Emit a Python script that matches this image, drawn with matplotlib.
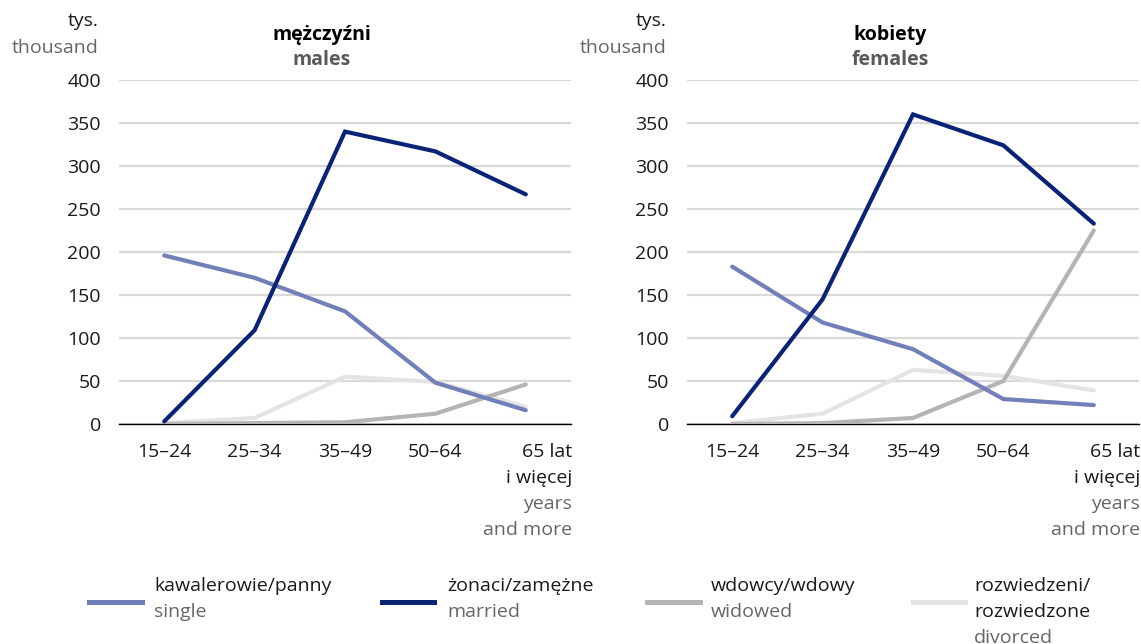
import matplotlib
matplotlib.use("Agg")
import matplotlib.pyplot as plt
from matplotlib.lines import Line2D

plt.rcParams['font.family'] = ['Open Sans', 'DejaVu Sans']

age_groups = ["15–24", "25–34", "35–49", "50–64", "65 lat"]
yticks = [0, 50, 100, 150, 200, 250, 300, 350, 400]

males_single = [196, 170, 131, 48, 16]
males_married = [3, 109, 340, 317, 267]
males_widowed = [0, 1, 2, 12, 46]
males_divorced = [1, 7, 55, 49, 20]

females_single = [183, 118, 87, 29, 22]
females_married = [9, 145, 360, 324, 233]
females_widowed = [0, 1, 7, 50, 225]
females_divorced = [1, 12, 63, 56, 39]

series_pl = ["kawalerowie/panny", "żonaci/zamężne", "wdowcy/wdowy", "rozwiedzeni/\nrozwiedzone"]
series_en = ["single", "married", "widowed", "divorced"]
colors = ["#7180b8", "#0b2376", "#b4b4b4", "#e4e4e4"]

W, H = 1141, 644
fig = plt.figure(figsize=(W / 100, H / 100), dpi=100)

BLACK = "#1a1a1a"
GRAY = "#666666"
FS = 14

def px(x, y):
    return x / W, 1 - y / H

panels = [
    (119, "mężczyźni", "males", [males_single, males_married, males_widowed, males_divorced]),
    (687, "kobiety", "females", [females_single, females_married, females_widowed, females_divorced]),
]

for left, t_pl, t_en, data in panels:
    ax = fig.add_axes([left / W, (H - 424) / H, 452 / W, 344 / H])
    x = list(range(len(age_groups)))
    order = [3, 2, 0, 1]
    for i in order:
        ax.plot(x, data[i], color=colors[i], lw=3.0, solid_capstyle='round',
                solid_joinstyle='miter', zorder=4 if i == 1 else 3)
    ax.set_xlim(-0.5, 4.5)
    ax.set_ylim(0, 400)
    ax.set_yticks(yticks)
    ax.set_yticklabels([str(v) for v in yticks], fontsize=FS, color=BLACK)
    ax.tick_params(axis='y', length=0, pad=13)
    ax.set_xticks(x[:4])
    ax.set_xticklabels(age_groups[:4], fontsize=FS, color=BLACK)
    ax.tick_params(axis='x', length=0, pad=14)
    ax.grid(axis='y', color="#d9d9d9", lw=1.6, zorder=0)
    ax.set_axisbelow(True)
    for s in ["top", "right", "left"]:
        ax.spines[s].set_visible(False)
    ax.spines["bottom"].set_color("black")
    ax.spines["bottom"].set_linewidth(1.0)
    ax.spines["bottom"].set_zorder(2)
    fig.text(*px(left + 453, 452), age_groups[4], ha='right', va='center', fontsize=FS, color=BLACK)
    fig.text(*px(left + 453, 478), "i więcej", ha='right', va='center', fontsize=FS, color=BLACK)
    fig.text(*px(left + 453, 504), "years", ha='right', va='center', fontsize=FS, color=GRAY)
    fig.text(*px(left + 453, 530), "and more", ha='right', va='center', fontsize=FS, color=GRAY)
    fig.text(*px(left - 20, 21), "tys.", ha='right', va='center', fontsize=FS, color=BLACK)
    fig.text(*px(left - 20, 48), "thousand", ha='right', va='center', fontsize=FS, color=GRAY)
    fig.text(*px(left + 203, 35), t_pl, ha='center', va='center', fontsize=FS, color="black", fontweight='bold')
    fig.text(*px(left + 203, 60), t_en, ha='center', va='center', fontsize=FS, color="#595959", fontweight='bold')

leg_x = [(89, 142, 154), (382, 434, 447), (647, 700, 711), (913, 965, 974)]
for i, (x0, x1, tx) in enumerate(leg_x):
    fig.add_artist(Line2D([x0 / W, x1 / W], [1 - 602 / H, 1 - 602 / H],
                          transform=fig.transFigure, color=colors[i], lw=3.6))
    lines_pl = series_pl[i].split("\n")
    y = 586
    for ln in lines_pl:
        fig.text(*px(tx, y), ln, ha='left', va='center', fontsize=FS, color=BLACK)
        y += 26
    fig.text(*px(tx, y), series_en[i], ha='left', va='center', fontsize=FS, color=GRAY)

fig.savefig("out.png", dpi=100)
